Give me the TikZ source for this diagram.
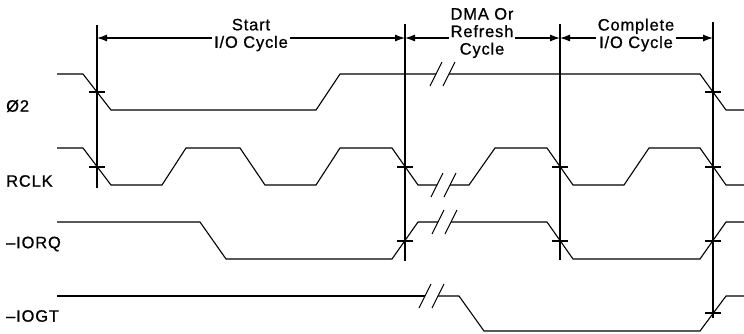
\documentclass[tikz,border=0pt]{standalone}
\usepackage{fontspec}
\setmainfont{Liberation Sans}[LetterSpace=5,FakeBold=0.8]
\usetikzlibrary{arrows.meta}

% one "//" break mark on a signal line, centred at (#1,#2)
\newcommand{\brkmark}[2]{%
  \draw[signal] (#1-6,#2+12) -- (#1+6,#2-12);}

\begin{document}
\begin{tikzpicture}[x=1pt,y=-1pt,
    signal/.style={line width=1.1pt,line join=miter},
    marker/.style={line width=1.1pt},
    tickmark/.style={line width=1.1pt},
    dimline/.style={line width=1.1pt,
      {Latex[length=10pt,width=7pt]}-{Latex[length=10pt,width=7pt]}},
    spanlabel/.style={fill=white,inner sep=2pt,align=center,
      font=\fontsize{16.5}{17.5}\selectfont},
    siglabel/.style={anchor=west,inner sep=0pt,
      font=\fontsize{16.5}{17.5}\selectfont}]
  \useasboundingbox (0,0) rectangle (744,333);

  % signal names
  \node[siglabel] (phi)  at (6,106) {Ø2};
  \node[siglabel] (rclk) at (6,181) {RCLK};
  \node[siglabel] (iorq) at (6,244) {--IORQ};
  \node[siglabel] (iogt) at (6,316) {--IOGT};

  % cycle boundaries
  \coordinate (m1) at (97,25);  \coordinate (m1b) at (97,188);
  \coordinate (m2) at (405,24); \coordinate (m2b) at (405,261);
  \coordinate (m3) at (560,24); \coordinate (m3b) at (560,260);
  \coordinate (m4) at (713,22); \coordinate (m4b) at (713,318);
  \draw[marker] (m1) -- (m1b);
  \draw[marker] (m2) -- (m2b);
  \draw[marker] (m3) -- (m3b);
  \draw[marker] (m4) -- (m4b);

  % cycle spans
  \coordinate (d1) at (97,38);
  \coordinate (d2) at (405,38);
  \coordinate (d3) at (560,38);
  \coordinate (d4) at (713,38);
  \draw[dimline] (d1) -- (d2);
  \draw[dimline] (d2) -- (d3);
  \draw[dimline] (d3) -- (d4);
  \node[spanlabel] (startcyc) at (251,35) {Start\\I/O Cycle};
  \node[spanlabel] (dmacyc)   at (482,33) {DMA Or\\Refresh\\Cycle};
  \node[spanlabel] (compcyc)  at (636,35) {Complete\\I/O Cycle};

  % Ø2
  \draw[signal] (57,74) -- (83,74) -- (111,110) -- (316,110) -- (340,74)
    -- (436,74);
  \draw[signal] (449,74) -- (700,74) -- (726,110) -- (744,110);
  \brkmark{436}{74} \brkmark{449}{74}

  % RCLK
  \draw[signal] (57,148) -- (83,148) -- (111,185) -- (162,185) -- (186,148)
    -- (240,148) -- (265,185) -- (316,185) -- (340,148) -- (392,148)
    -- (418,185) -- (437,185);
  \draw[signal] (450,185) -- (469,185) -- (495,148) -- (547,148)
    -- (573,185) -- (624,185) -- (649,148) -- (700,148) -- (726,185)
    -- (744,185);
  \brkmark{437}{185} \brkmark{450}{185}

  % -IORQ
  \draw[signal] (57,222) -- (200,222) -- (226,259) -- (392,259)
    -- (418,222) -- (438,222);
  \draw[signal] (451,222) -- (547,222) -- (573,259) -- (700,259)
    -- (726,222) -- (744,222);
  \brkmark{438}{222} \brkmark{451}{222}

  % -IOGT
  \draw[signal] (57,296) -- (425,296);
  \draw[signal] (438,296) -- (459,296) -- (484,331) -- (700,331)
    -- (726,296) -- (744,296);
  \brkmark{425}{296} \brkmark{438}{296}

  % crossing ticks
  \foreach \x/\y in {97/92, 713/92, 97/167, 405/167, 560/167, 713/167,
      405/241, 560/241, 713/241, 713/313}
    \draw[tickmark] (\x-8,\y) -- (\x+8,\y);
\end{tikzpicture}
\end{document}
